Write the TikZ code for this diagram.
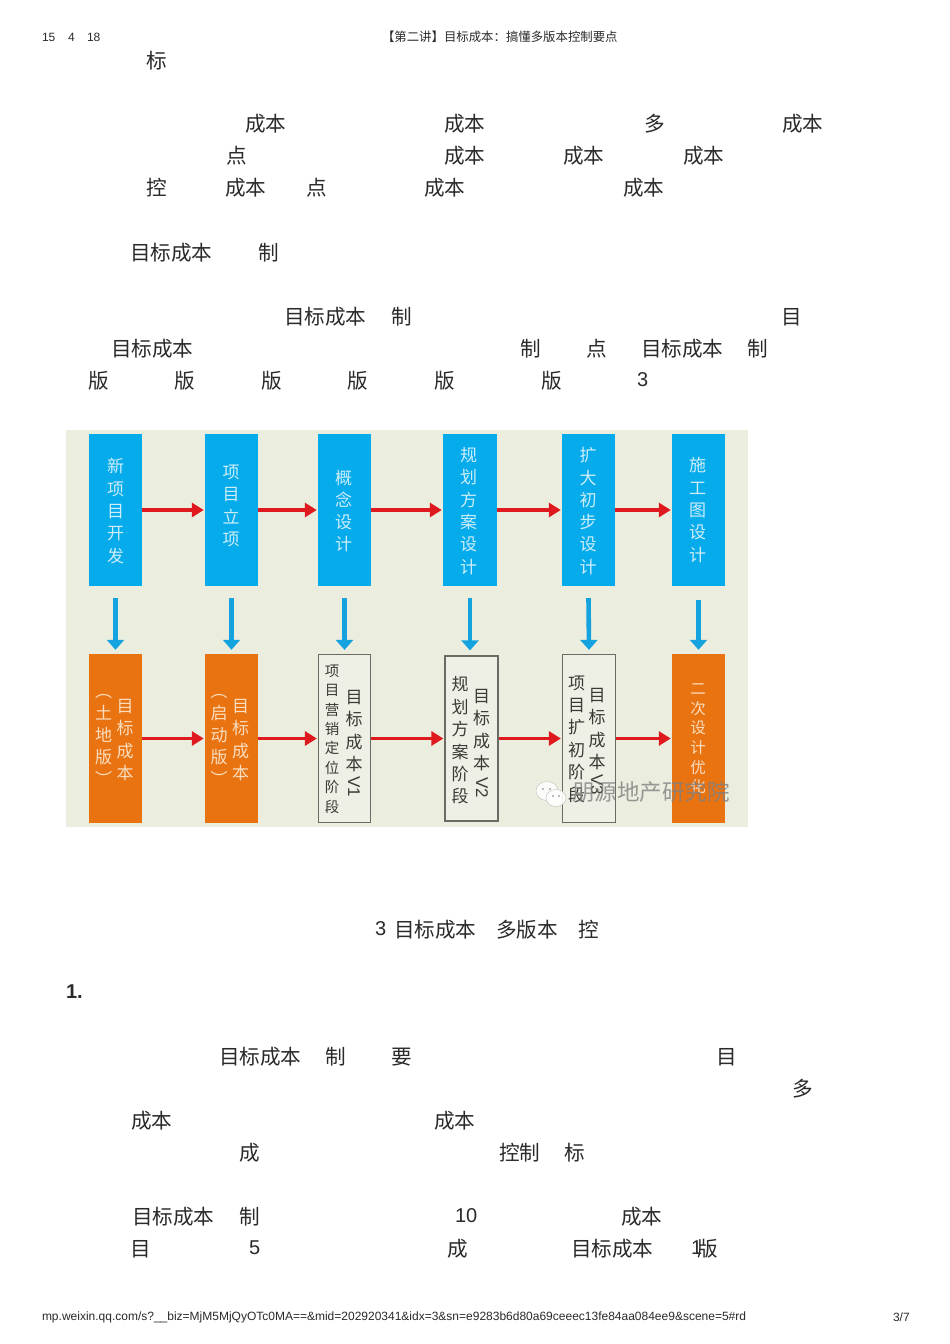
\documentclass[tikz,border=0pt]{standalone}
\usepackage{fontspec}
\setmainfont{Liberation Sans}
\newfontfamily\cjk{Noto Sans CJK SC}
\usetikzlibrary{arrows.meta}
\definecolor{bgc}{HTML}{EBEEDF}
\definecolor{boxblue}{HTML}{06ABEC}
\definecolor{boxorange}{HTML}{E97311}
\definecolor{boxpale}{HTML}{EEF0E6}
\definecolor{edgegray}{HTML}{6A6C64}
\definecolor{redarrow}{HTML}{DF1A1E}
\definecolor{bluearrow}{HTML}{14A3DF}
\definecolor{inkc}{HTML}{2A2A2A}
\definecolor{boxink}{HTML}{3A3A36}
\definecolor{paleblue}{HTML}{CDEEF9}
\definecolor{paleorange}{HTML}{F9DDBE}
\newcounter{runno}
\tikzset{
  bodytext/.style={anchor=west,inner sep=0pt,outer sep=0pt,yshift=-1pt,text=inkc,font=\cjk\fontsize{20.6}{20.6}\selectfont},
  numtext/.style={anchor=west,inner sep=0pt,outer sep=0pt,text=inkc,font=\fontsize{20}{20}\selectfont},
  smalltext/.style={anchor=west,inner sep=0pt,outer sep=0pt,yshift=-1pt,text=inkc,font=\fontsize{12}{12}\selectfont},
  bluebox/.style={draw=none,fill=boxblue,minimum width=53pt,minimum height=152pt,inner sep=0pt},
  orangebox/.style={draw=none,fill=boxorange,minimum width=53pt,minimum height=169pt,inner sep=0pt},
  palebox/.style={draw=edgegray,line width=1.2pt,fill=boxpale,minimum width=52pt,minimum height=168pt,inner sep=0pt},
  stack/.style={align=center,inner sep=0pt},
  stackblue/.style={stack,text=paleblue,font=\cjk\fontsize{17}{22.3}\selectfont},
  stackorange/.style={stack,text=paleorange,font=\cjk\fontsize{17}{22.2}\selectfont},
  stackdark/.style={stack,text=boxink,font=\cjk\fontsize{17}{22.4}\selectfont},
  stackdarksmall/.style={stack,text=boxink,font=\cjk\fontsize{14.5}{19.4}\selectfont},
  vlabel/.style={rotate=-90,inner sep=0pt,text=boxink,font=\fontsize{17}{17}\selectfont},
  flowred/.style={draw=redarrow,line width=3.8pt,-{Triangle[length=12pt,width=14pt]},shorten >=1pt},
  flowblue/.style={draw=bluearrow,line width=4.6pt,-{Triangle[length=10pt,width=17pt]}},
}
\newcommand{\bodyrun}[3]{\stepcounter{runno}\node[bodytext] (r\arabic{runno}) at (#1,#2) {#3};}
\newcommand{\numrun}[3]{\stepcounter{runno}\node[numtext] (r\arabic{runno}) at (#1,#2) {#3};}
\newcommand{\smallrun}[3]{\stepcounter{runno}\node[smalltext] (r\arabic{runno}) at (#1,#2) {#3};}
\begin{document}
\begin{tikzpicture}[x=1pt,y=-1pt]
\useasboundingbox[fill=white] (0,0) rectangle (950,1344);
% header
\smallrun{42}{36}{15}
\smallrun{68}{36}{4}
\smallrun{87}{36}{18}
\node[smalltext,font=\cjk\fontsize{12.4}{12.4}\selectfont] (title) at (382,36) {【第二讲】目标成本：搞懂多版本控制要点};
% upper body
\bodyrun{146}{60}{标}
\bodyrun{245}{123}{成本}\bodyrun{444}{123}{成本}\bodyrun{644}{123}{多}\bodyrun{782}{123}{成本}
\bodyrun{226}{155}{点}\bodyrun{444}{155}{成本}\bodyrun{563}{155}{成本}\bodyrun{683}{155}{成本}
\bodyrun{146}{187}{控}\bodyrun{225}{187}{成本}\bodyrun{306}{187}{点}\bodyrun{424}{187}{成本}\bodyrun{623}{187}{成本}
\bodyrun{130}{252}{目标成本}\bodyrun{258}{252}{制}
\bodyrun{284}{316}{目标成本}\bodyrun{391}{316}{制}\bodyrun{781}{316}{目}
\bodyrun{111}{348}{目标成本}\bodyrun{520}{348}{制}\bodyrun{586}{348}{点}\bodyrun{641}{348}{目标成本}\bodyrun{747}{348}{制}
\bodyrun{88}{380}{版}\bodyrun{174}{380}{版}\bodyrun{261}{380}{版}\bodyrun{347}{380}{版}\bodyrun{434}{380}{版}\bodyrun{541}{380}{版}\numrun{637}{380}{3}
% figure background
\fill[bgc] (66,430) rectangle (748,827);
% top row
\node[bluebox] (b1) at (115.5,510) {};
\node[bluebox] (b2) at (231.5,510) {};
\node[bluebox] (b3) at (344.5,510) {};
\node[bluebox,minimum width=54pt] (b4) at (470,510) {};
\node[bluebox] (b5) at (588.5,510) {};
\node[bluebox] (b6) at (698.5,510) {};
\node[stackblue] (tb1) at (115.5,511) {新\\项\\目\\开\\发};
\node[stackblue] (tb2) at (231,506) {项\\目\\立\\项};
\node[stackblue] (tb3) at (343.5,511) {概\\念\\设\\计};
\node[stackblue] (tb4) at (468.5,511) {规\\划\\方\\案\\设\\计};
\node[stackblue] (tb5) at (588,511) {扩\\大\\初\\步\\设\\计};
\node[stackblue] (tb6) at (697.5,510) {施\\工\\图\\设\\计};
% bottom row
\node[orangebox] (o1) at (115.5,738.5) {};
\node[orangebox] (o2) at (231.5,738.5) {};
\node[palebox] (w3) at (344.5,738.5) {};
\node[palebox,minimum width=53pt,minimum height=165pt] (w4) at (471.5,738.5) {};
\node[palebox,minimum width=53pt] (w5) at (589,738.5) {};
\node[orangebox] (o6) at (698.5,738.5) {};
\node[stackorange] (to1a) at (125,740) {目\\标\\成\\本};
\node[stackorange] (to1b) at (103.5,740) {︵\\土\\地\\版\\︶};
\node[stackorange] (to2a) at (240.5,740) {目\\标\\成\\本};
\node[stackorange] (to2b) at (219,740) {︵\\启\\动\\版\\︶};
\node[stackdark] (tw3a) at (354,731) {目\\标\\成\\本};
\node[vlabel] (tw3v) at (354,787) {V1};
\node[stackdarksmall] (tw3b) at (332,739) {项\\目\\营\\销\\定\\位\\阶\\段};
\node[stackdark] (tw4a) at (481.5,730) {目\\标\\成\\本};
\node[vlabel] (tw4v) at (482,788) {V2};
\node[stackdark] (tw4b) at (460,740.5) {规\\划\\方\\案\\阶\\段};
\node[stackdark] (tw5a) at (597,729) {目\\标\\成\\本};
\node[vlabel] (tw5v) at (597,785) {V3};
\node[stackdark] (tw5b) at (576.5,739) {项\\目\\扩\\初\\阶\\段};
\node[stackorange,font=\cjk\fontsize{15.5}{19.6}\selectfont] (to6) at (698,739) {二\\次\\设\\计\\优\\化};
% red arrows
\draw[flowred] (b1) -- (b2);
\draw[flowred] (b2) -- (b3);
\draw[flowred] (b3) -- (b4);
\draw[flowred] (b4) -- (b5);
\draw[flowred] (b5) -- (b6);
\draw[flowred] (o1) -- (o2);
\draw[flowred] (o2) -- (w3);
\draw[flowred] (w3) -- (w4);
\draw[flowred] (w4) -- (w5);
\draw[flowred] (w5) -- (o6);
% blue arrows
\draw[flowblue] ([yshift=-12pt]b1.south) -- ([yshift=4pt]o1.north);
\draw[flowblue] ([yshift=-12pt]b2.south) -- ([yshift=4pt]o2.north);
\draw[flowblue] ([yshift=-12pt]b3.south) -- ([yshift=4pt]w3.north);
\draw[flowblue] ([yshift=-12pt]b4.south) -- ([yshift=5pt]b4.south |- w4.north);
\draw[flowblue] ([yshift=-12pt]b5.south) -- ([yshift=4pt]w5.north);
\draw[flowblue] ([yshift=-14pt]b6.south) -- ([yshift=4pt]o6.north);
% watermark
\fill[white,opacity=.85,draw=gray!50,line width=.5pt] (547,791) ellipse (11pt and 9.5pt);
\fill[white,opacity=.9,draw=gray!50,line width=.5pt] (556,798) ellipse (10pt and 8.5pt);
\fill[gray!70] (543,789) circle (1.2pt) (550,789) circle (1.2pt) (553,796) circle (1.1pt) (559,796) circle (1.1pt);
\node[inner sep=0pt,anchor=west,text=gray,opacity=.8,font=\cjk\fontsize{22.5}{22.5}\selectfont] (mark) at (572,792) {朋源地产研究院};
% lower body
\numrun{375}{929}{3}\bodyrun{394}{929}{目标成本}\bodyrun{496}{929}{多版本}\bodyrun{578}{929}{控}
\numrun{66}{992}{\bfseries 1.}
\bodyrun{219}{1056}{目标成本}\bodyrun{325}{1056}{制}\bodyrun{391}{1056}{要}\bodyrun{716}{1056}{目}
\bodyrun{792}{1088}{多}
\bodyrun{131}{1120}{成本}\bodyrun{434}{1120}{成本}
\bodyrun{239}{1152}{成}\bodyrun{499}{1152}{控制}\bodyrun{564}{1152}{标}
\bodyrun{132}{1216}{目标成本}\bodyrun{239}{1216}{制}\numrun{455}{1216}{10}\bodyrun{621}{1216}{成本}
\bodyrun{130}{1248}{目}\numrun{249}{1248}{5}\bodyrun{447}{1248}{成}\bodyrun{571}{1248}{目标成本}\numrun{691}{1248}{1}\bodyrun{697}{1248}{版}
% footer
\smallrun{42}{1316}{mp.weixin.qq.com/s?\_\_biz=MjM5MjQyOTc0MA==\&mid=202920341\&idx=3\&sn=e9283b6d80a69ceeec13fe84aa084ee9\&scene=5\#rd}
\smallrun{893}{1316}{3/7}
\end{tikzpicture}
\end{document}
